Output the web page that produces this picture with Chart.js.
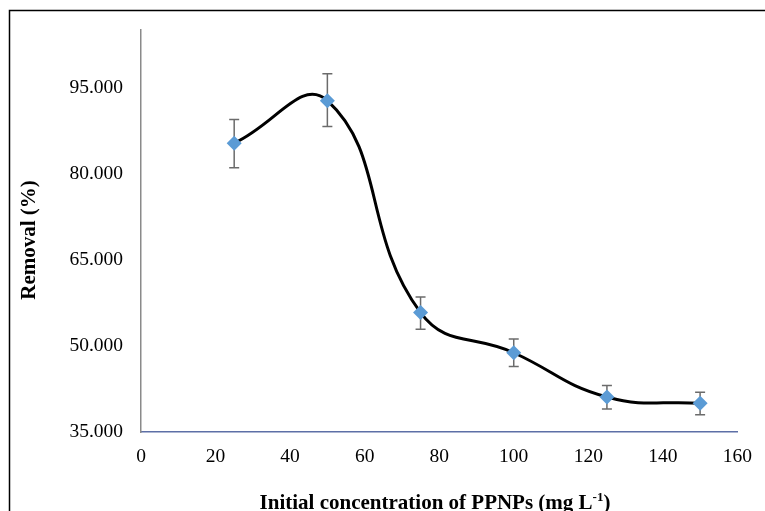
<!DOCTYPE html>
<html>
<head>
<meta charset="utf-8">
<script src="https://cdn.jsdelivr.net/npm/chart.js@4/dist/chart.umd.min.js"></script>
<style>
  html, body { margin: 0; padding: 0; background: #fff; }
  #wrap { width: 765px; height: 511px; position: relative; }
</style>
</head>
<body>
<div id="wrap"><canvas id="chart" width="765" height="511"></canvas></div>
<script>
// data
const conc = [25, 50, 75, 100, 125, 150];
const removal = [85.3, 92.7, 55.8, 48.8, 41.1, 40.0];
const errHigh = [89.4, 97.4, 58.5, 51.2, 43.1, 41.9];
const errLow = [81.0, 88.2, 52.9, 46.4, 39.0, 38.0];
const xTicks = [0, 20, 40, 60, 80, 100, 120, 140, 160];
const yTicks = [35, 50, 65, 80, 95];

const serif = "'Liberation Serif', 'Times New Roman', serif";

// frame + axis titles
const decor = {
    id: 'decor',
    beforeDraw(chart) {
        const ctx = chart.ctx;
        ctx.save();
        ctx.strokeStyle = '#000';
        ctx.lineWidth = 1.5;
        ctx.beginPath();
        ctx.moveTo(9.5, 520);
        ctx.lineTo(9.5, 10.5);
        ctx.lineTo(770, 10.5);
        ctx.stroke();
        ctx.restore();
    },
    afterDraw(chart) {
        const ctx = chart.ctx;
        ctx.save();
        ctx.fillStyle = '#000';
        // y title
        ctx.font = 'bold 21px ' + serif;
        ctx.textAlign = 'center';
        ctx.textBaseline = 'middle';
        ctx.translate(30, 240);
        ctx.rotate(-Math.PI / 2);
        ctx.fillText('Removal (%)', 0, 0);
        ctx.restore();

        // x title with superscript
        ctx.save();
        ctx.fillStyle = '#000';
        ctx.textBaseline = 'alphabetic';
        ctx.textAlign = 'left';
        const main = 'Initial concentration of PPNPs (mg L';
        const sup = '-1';
        const end = ')';
        ctx.font = 'bold 21px ' + serif;
        const w1 = ctx.measureText(main).width;
        const w3 = ctx.measureText(end).width;
        ctx.font = 'bold 13px ' + serif;
        const w2 = ctx.measureText(sup).width;
        let x = 435 - (w1 + w2 + w3) / 2;
        const base = 509;
        ctx.font = 'bold 21px ' + serif;
        ctx.fillText(main, x, base);
        x += w1;
        ctx.font = 'bold 13px ' + serif;
        ctx.fillText(sup, x, base - 8);
        x += w2;
        ctx.font = 'bold 21px ' + serif;
        ctx.fillText(end, x, base);
        ctx.restore();
    }
};

// error bars from errLow/errHigh
const errorBars = {
    id: 'errorBars',
    beforeDatasetsDraw(chart) {
        const ctx = chart.ctx;
        const xs = chart.scales.x, ys = chart.scales.y;
        ctx.save();
        ctx.strokeStyle = '#6b6b6b';
        ctx.lineWidth = 1.5;
        for (let i = 0; i < conc.length; i++) {
            const px = xs.getPixelForValue(conc[i]);
            const top = ys.getPixelForValue(errHigh[i]);
            const bot = ys.getPixelForValue(errLow[i]);
            ctx.beginPath();
            ctx.moveTo(px, top);
            ctx.lineTo(px, bot);
            ctx.moveTo(px - 5, top);
            ctx.lineTo(px + 5, top);
            ctx.moveTo(px - 5, bot);
            ctx.lineTo(px + 5, bot);
            ctx.stroke();
        }
        ctx.restore();
    }
};

const ctx = document.getElementById('chart').getContext('2d');
const myChart = new Chart(ctx, {
    type: 'line',
    data: {
        datasets: [{
            data: conc.map((c, i) => ({ x: c, y: removal[i] })),
            borderColor: '#000',
            borderWidth: 3,
            tension: 0.45,
            pointStyle: 'rectRot',
            pointRadius: 7.5,
            pointBackgroundColor: '#5B9BD5',
            pointBorderColor: '#5B9BD5',
            pointBorderWidth: 0
        }]
    },
    options: {
        responsive: false,
        animation: false,
        layout: { padding: { top: 30, right: 23, left: 0, bottom: 0 } },
        plugins: {
            legend: { display: false },
            tooltip: { enabled: false }
        },
        scales: {
            x: {
                type: 'linear',
                min: 0,
                max: 160,
                afterBuildTicks: s => { s.ticks = xTicks.map(v => ({ value: v })); },
                afterFit: s => { s.height = 79; },
                grid: { display: false, drawTicks: false },
                border: { display: true, color: '#5d6fa6', width: 1.5 },
                ticks: {
                    color: '#000',
                    padding: 13,
                    maxRotation: 0,
                    font: { family: serif, size: 19.5 }
                }
            },
            y: {
                type: 'linear',
                min: 35,
                max: 105,
                afterBuildTicks: s => { s.ticks = yTicks.map(v => ({ value: v })); },
                afterFit: s => { s.width = 141; },
                grid: { display: false, drawTicks: false },
                border: { display: true, color: '#8a8a8a', width: 1.5 },
                ticks: {
                    color: '#000',
                    padding: 18,
                    font: { family: serif, size: 19.5 },
                    callback: v => v.toFixed(3)
                }
            }
        }
    },
    plugins: [decor, errorBars]
});
</script>
</body>
</html>
